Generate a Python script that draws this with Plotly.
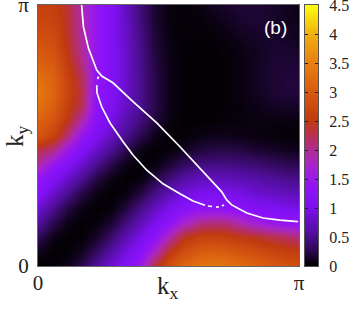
import numpy as np
import plotly.graph_objects as go

PI = np.pi
grid_frac = [i / 18 for i in range(19)]

# spectral intensity, rows from ky=0 up to ky=pi, columns kx=0..pi
z_rows = [
    [0.00, 0.02, 0.08, 0.25, 0.55, 0.85, 1.10, 1.50, 2.30, 2.85, 3.15, 3.35, 3.40, 3.35, 3.25, 3.10, 3.00, 2.90, 2.85],
    [0.08, 0.01, 0.02, 0.10, 0.30, 0.60, 0.90, 1.20, 1.75, 2.45, 2.80, 3.00, 3.05, 3.00, 2.90, 2.80, 2.70, 2.60, 2.55],
    [0.28, 0.07, 0.01, 0.02, 0.12, 0.35, 0.65, 0.95, 1.25, 1.85, 2.40, 2.60, 2.65, 2.60, 2.50, 2.40, 2.30, 2.20, 2.10],
    [0.55, 0.25, 0.07, 0.01, 0.03, 0.15, 0.40, 0.70, 1.00, 1.30, 1.70, 2.00, 2.10, 2.05, 1.85, 1.65, 1.50, 1.40, 1.35],
    [0.85, 0.50, 0.22, 0.06, 0.01, 0.03, 0.18, 0.45, 0.72, 1.00, 1.20, 1.30, 1.35, 1.30, 1.20, 1.10, 1.05, 1.00, 0.95],
    [1.15, 0.80, 0.48, 0.20, 0.06, 0.01, 0.04, 0.20, 0.45, 0.70, 0.90, 1.00, 1.05, 1.00, 0.95, 0.85, 0.80, 0.75, 0.70],
    [1.35, 1.10, 0.80, 0.48, 0.20, 0.06, 0.01, 0.04, 0.20, 0.40, 0.60, 0.72, 0.75, 0.72, 0.68, 0.62, 0.55, 0.50, 0.45],
    [1.90, 1.40, 1.10, 0.80, 0.48, 0.22, 0.06, 0.01, 0.04, 0.17, 0.30, 0.42, 0.45, 0.45, 0.42, 0.38, 0.33, 0.28, 0.25],
    [2.30, 2.05, 1.50, 1.10, 0.80, 0.50, 0.25, 0.07, 0.01, 0.03, 0.10, 0.18, 0.22, 0.23, 0.20, 0.16, 0.13, 0.10, 0.08],
    [2.90, 2.65, 2.10, 1.40, 1.05, 0.75, 0.50, 0.25, 0.08, 0.01, 0.02, 0.05, 0.08, 0.08, 0.07, 0.05, 0.03, 0.02, 0.02],
    [3.10, 2.90, 2.45, 1.85, 1.20, 0.95, 0.65, 0.42, 0.20, 0.05, 0.01, 0.01, 0.02, 0.03, 0.04, 0.05, 0.05, 0.05, 0.04],
    [3.30, 3.05, 2.60, 2.20, 1.30, 1.05, 0.78, 0.50, 0.24, 0.07, 0.02, 0.01, 0.01, 0.02, 0.04, 0.07, 0.10, 0.12, 0.12],
    [3.40, 3.15, 2.70, 2.25, 1.35, 1.08, 0.82, 0.50, 0.24, 0.07, 0.02, 0.01, 0.01, 0.02, 0.05, 0.10, 0.15, 0.18, 0.18],
    [3.30, 3.10, 2.65, 2.20, 1.40, 1.10, 0.82, 0.50, 0.24, 0.07, 0.02, 0.01, 0.01, 0.02, 0.05, 0.10, 0.15, 0.18, 0.18],
    [3.10, 3.00, 2.55, 2.05, 1.40, 1.10, 0.82, 0.48, 0.22, 0.07, 0.02, 0.01, 0.01, 0.02, 0.05, 0.10, 0.15, 0.17, 0.16],
    [2.95, 2.85, 2.45, 1.95, 1.40, 1.10, 0.82, 0.47, 0.20, 0.06, 0.02, 0.01, 0.01, 0.03, 0.06, 0.10, 0.14, 0.15, 0.12],
    [2.80, 2.75, 2.40, 1.90, 1.40, 1.10, 0.80, 0.45, 0.18, 0.05, 0.02, 0.02, 0.03, 0.06, 0.10, 0.13, 0.14, 0.12, 0.09],
    [2.70, 2.65, 2.38, 1.88, 1.40, 1.10, 0.78, 0.42, 0.16, 0.04, 0.02, 0.03, 0.06, 0.10, 0.14, 0.16, 0.14, 0.10, 0.07],
    [2.60, 2.60, 2.35, 1.85, 1.40, 1.10, 0.75, 0.40, 0.15, 0.04, 0.02, 0.05, 0.10, 0.14, 0.17, 0.17, 0.14, 0.10, 0.06],
]

# white curves, fractions of pi
upper_kx = [.167, .174, .193, .225, .244, .287, .364, .455, .544, .621, .670, .704, .723, .742, .800, .862, .927, .996]
upper_ky = [1.0, .917, .835, .751, .728, .702, .630, .548, .457, .373, .322, .284, .253, .234, .203, .184, .176, .170]
lower_kx = [.232, .228, None, .225, .226, .244, .276, .326, .364, .416, .479, .544, .594, .640, None, .651, .667, None, .682, .693, None, .705, .713]
lower_ky = [.726, .716, None, .693, .663, .610, .548, .476, .425, .368, .315, .277, .249, .233, None, .230, .228, None, .226, .226, None, .230, .234]

cbar_ticks = [0, 0.5, 1, 1.5, 2, 2.5, 3, 3.5, 4, 4.5]
cbar_labels = ["0", "0.5", "1", "1.5", "2", "2.5", "3", "3.5", "4", "4.5"]
ZMAX = 4.5
color_stops = [
    (0.0, "#000000"), (0.25, "#2c0850"), (0.5, "#4c0e92"), (1.0, "#7c10ee"), (1.25, "#8a12f8"),
    (1.5, "#9a18e8"), (1.75, "#a825c8"), (2.0, "#b02c90"), (2.25, "#b83050"), (2.5, "#c03a10"),
    (3.0, "#d85a10"), (3.5, "#e88010"), (4.0, "#f0b010"), (4.5, "#ffff10"),
]
colorscale = [[v / ZMAX, c] for v, c in color_stops]

W, H = 359, 317
L, R, T, B = 38, 299, 5, 266
SERIF = "Liberation Serif"
scale_pi = lambda a: [None if v is None else v * PI for v in a]

fig = go.Figure()
fig.add_heatmap(x=scale_pi(grid_frac), y=scale_pi(grid_frac), z=z_rows, zmin=0, zmax=ZMAX,
                colorscale=colorscale, zsmooth="best", showscale=False)
fig.add_scatter(x=scale_pi(upper_kx), y=scale_pi(upper_ky), mode="lines",
                line=dict(color="white", width=1.7), showlegend=False)
fig.add_scatter(x=scale_pi(lower_kx), y=scale_pi(lower_ky), mode="lines",
                line=dict(color="white", width=1.7), showlegend=False)

levels = [i * 0.025 for i in range(181)]
fig.add_heatmap(x=[0, 1], y=levels, z=[[v, v] for v in levels], zmin=0, zmax=ZMAX,
                colorscale=colorscale, showscale=False, xaxis="x2", yaxis="y2")

fig.update_layout(
    width=W, height=H, margin=dict(l=0, r=0, t=0, b=0, pad=0), paper_bgcolor="white",
    plot_bgcolor="white", showlegend=False, template=None,
    font=dict(family=SERIF, color="#222222"),
    xaxis=dict(domain=[L / W, R / W], range=[0, PI], tickvals=[0, PI], ticktext=["0", "π"],
               ticks="", showgrid=False, zeroline=False, showline=True, linecolor="#666666",
               linewidth=1, mirror=True, tickfont=dict(size=21, family=SERIF), automargin=False,
               ticklabelstandoff=-2, ticklabeloverflow="allow"),
    yaxis=dict(domain=[1 - B / H, 1 - T / H], range=[0, PI], tickvals=[0, PI], ticktext=["0", "π"],
               ticks="", showgrid=False, zeroline=False, showline=True, linecolor="#666666",
               linewidth=1, mirror=True, tickfont=dict(size=21, family=SERIF), automargin=False,
               ticklabelstandoff=4, ticklabeloverflow="allow"),
    xaxis2=dict(domain=[305 / W, 318 / W], range=[0, 1], showticklabels=False, ticks="",
                showgrid=False, zeroline=False, showline=True, linecolor="#555555", mirror=True,
                anchor="y2", automargin=False),
    yaxis2=dict(domain=[1 - B / H, 1 - T / H], range=[0, ZMAX], tickvals=cbar_ticks, ticktext=cbar_labels,
                side="right", anchor="x2", ticks="inside", ticklen=3, tickcolor="#222222",
                showgrid=False, zeroline=False, showline=True, linecolor="#555555", mirror="ticks",
                tickfont=dict(size=16, family=SERIF), automargin=False, ticklabelstandoff=7,
                ticklabeloverflow="allow"),
    annotations=[
        dict(text="(b)", x=275 / W, y=1 - 27 / H, xref="paper", yref="paper", showarrow=False,
             xanchor="center", yanchor="middle",
             font=dict(family="Liberation Sans", size=19, color="white")),
        dict(text="k<sub>x</sub>", x=168 / W, y=1 - 287 / H, xref="paper", yref="paper", showarrow=False,
             xanchor="center", yanchor="middle",
             font=dict(family=SERIF, size=25, color="#222222")),
        dict(text="k<sub>y</sub>", x=16 / W, y=1 - 136 / H, xref="paper", yref="paper", showarrow=False,
             xanchor="center", yanchor="middle", textangle=-90,
             font=dict(family=SERIF, size=25, color="#222222")),
    ],
)
fig.write_html("out.html", post_script="document.body.style.margin='0';",
               config={"displayModeBar": False})
